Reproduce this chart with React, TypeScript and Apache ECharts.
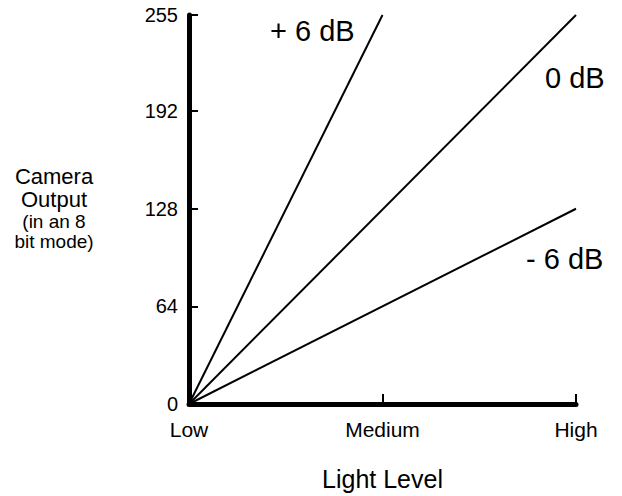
import React, { useEffect, useRef } from "react";
import * as echarts from "echarts";

const categories = ["Low", "Medium", "High"];
const yTicks = [0, 64, 128, 192, 255];
const plusSixDb = [[0, 0], [1, 255]];
const zeroDb = [[0, 0], [2, 255]];
const minusSixDb = [[0, 0], [2, 128]];
const seriesNames = ["+ 6 dB", "0 dB", "- 6 dB"];
const yNameLines = ["Camera", "Output", "(in an 8", "bit mode)"];
const xName = "Light Level";

const FONT = "'Liberation Sans', Arial, Helvetica, sans-serif";

export default function App() {
  const ref = useRef<HTMLDivElement>(null);
  useEffect(() => {
    if (!ref.current) return;
    const chart = echarts.init(ref.current, null, { renderer: "svg" });
    const lineStyle = { color: "#000", width: 2 };
    const label = (text: string, x: number, y: number, size: number, align = "center") => ({
      type: "text",
      x,
      y,
      style: { text, font: `${size}px ${FONT}`, fill: "#000", align, verticalAlign: "middle" },
    });
    chart.setOption({
      animation: false,
      backgroundColor: "#fff",
      textStyle: { fontFamily: FONT },
      grid: { left: 189, right: 46, top: 15, bottom: 92, outerBoundsMode: "none", containLabel: false },
      xAxis: {
        type: "value",
        min: 0,
        max: 2,
        interval: 1,
        splitLine: { show: false },
        axisLine: { lineStyle: { color: "#000", width: 5 } },
        axisTick: { inside: true, length: 10, lineStyle: { color: "#000", width: 2 } },
        axisLabel: {
          color: "#000",
          fontSize: 21,
          fontFamily: FONT,
          margin: 15,
          formatter: (v: number) => categories[Math.round(v)] ?? "",
        },
        name: xName,
        nameLocation: "middle",
        nameGap: 62,
        nameTextStyle: { color: "#000", fontSize: 25, fontFamily: FONT },
      },
      yAxis: {
        type: "value",
        min: 0,
        max: 255,
        interval: 64,
        splitLine: { show: false },
        axisLine: { lineStyle: { color: "#000", width: 5 } },
        axisTick: { inside: true, length: 9, lineStyle: { color: "#000", width: 2 } },
        axisLabel: {
          color: "#000",
          fontSize: 20,
          fontFamily: FONT,
          margin: 11,
          showMaxLabel: true,
          formatter: (v: number) => (yTicks.includes(Math.round(v)) ? String(Math.round(v)) : ""),
        },
      },
      series: [
        { name: seriesNames[0], type: "line", data: plusSixDb, symbol: "none", lineStyle },
        { name: seriesNames[1], type: "line", data: zeroDb, symbol: "none", lineStyle },
        { name: seriesNames[2], type: "line", data: minusSixDb, symbol: "none", lineStyle },
      ],
      graphic: [
        label(seriesNames[0], 270, 31, 29, "left"),
        label(seriesNames[1], 545, 78, 29, "left"),
        label(seriesNames[2], 526, 259, 29, "left"),
        label(yNameLines[0], 54, 176, 22),
        label(yNameLines[1], 54, 199, 22),
        label(yNameLines[2], 54, 221, 19),
        label(yNameLines[3], 54, 241, 19),
      ],
    });
    return () => chart.dispose();
  }, []);
  return (
    <div
      ref={ref}
      style={{ position: "fixed", left: 0, top: 0, width: 622, height: 496, background: "#fff" }}
    />
  );
}
